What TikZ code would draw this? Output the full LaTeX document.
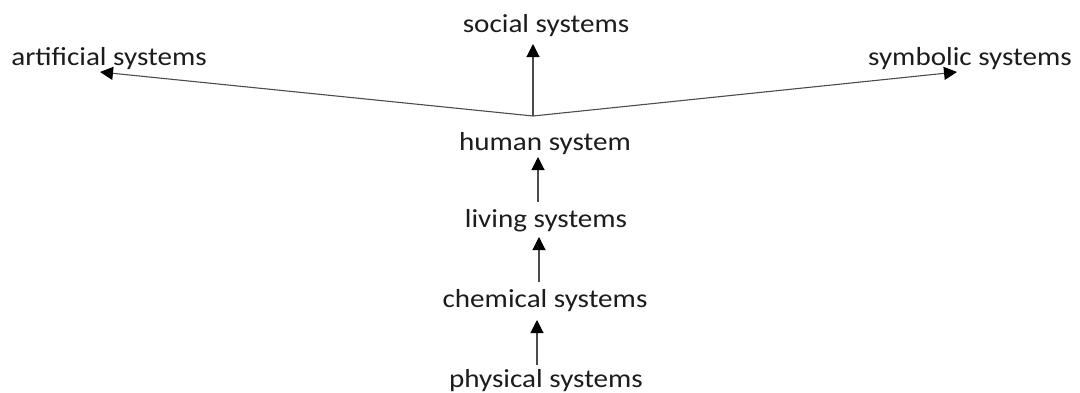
\documentclass[tikz,border=0pt]{standalone}
\usepackage{fontspec}
\setmainfont{Carlito}
\usetikzlibrary{arrows.meta}
\definecolor{txt}{HTML}{1C1C1C}
\newcommand{\wtxt}[1]{\scalebox{1.12}[1]{#1}}
\tikzset{
  lbl/.style={inner sep=0pt, anchor=base, text=txt, font=\fontsize{26}{31}\selectfont},
  conn/.style={draw=black!70, line width=1.1pt, -{Triangle[length=13pt,width=13pt,color=black]}}
}
\begin{document}
\begin{tikzpicture}[x=1pt,y=-1pt]
\useasboundingbox (0,0) rectangle (1080,392);
\node[lbl] (social) at (546,32) {\wtxt{social systems}};
\node[lbl] (artificial) at (109,65) {\wtxt{artificial systems}};
\node[lbl] (symbolic) at (970,65) {\wtxt{symbolic systems}};
\node[lbl] (human) at (545,150) {\wtxt{human system}};
\node[lbl] (living) at (546,227) {\wtxt{living systems}};
\node[lbl] (chemical) at (545,307) {\wtxt{chemical systems}};
\node[lbl] (physical) at (546,387) {\wtxt{physical systems}};
\coordinate (j) at (533,116);
\draw[conn] (j) -- ([xshift=-13pt,yshift=-12pt]social.base);
\draw[conn] (j) -- ([xshift=-9pt,yshift=-7pt]artificial.base);
\draw[conn] (j) -- ([xshift=-13pt,yshift=-7pt]symbolic.base);
\draw[conn] ([xshift=-8pt,yshift=25pt]living.base) -- ([xshift=-7pt,yshift=-7pt]human.base);
\draw[conn] ([xshift=-6pt,yshift=25pt]chemical.base) -- ([xshift=-7pt,yshift=-10pt]living.base);
\draw[conn] ([xshift=-9pt,yshift=22pt]physical.base) -- ([xshift=-8pt,yshift=-13pt]chemical.base);
\end{tikzpicture}
\end{document}
